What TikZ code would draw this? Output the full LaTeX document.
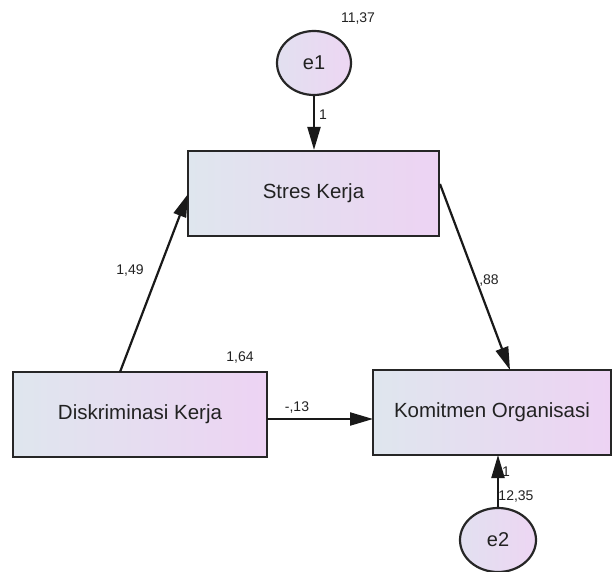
\documentclass[tikz,border=0pt]{standalone}
\usepackage{fontspec}
\setmainfont{Liberation Sans}
\usetikzlibrary{arrows.meta,shapes.geometric}
\definecolor{boxL}{HTML}{DFE6EE}
\definecolor{boxR}{HTML}{EDD3F3}
\definecolor{ellL}{HTML}{E2E0F0}
\definecolor{ellR}{HTML}{EDD6F3}
\definecolor{txt}{HTML}{222222}
\begin{document}
\begin{tikzpicture}[x=1pt,y=-1pt,
  varbox/.style={draw=black!85,line width=2.2pt,rectangle,left color=boxL,right color=boxR,
    minimum height=85pt,inner sep=0pt,font=\fontsize{20.5}{24}\selectfont,text=txt},
  errnode/.style={draw=black!85,line width=2.2pt,ellipse,left color=ellL,right color=ellR,
    minimum width=74pt,minimum height=64pt,inner sep=0pt,font=\fontsize{20}{24}\selectfont,text=txt},
  path/.style={line width=2.2pt,draw=black!90,-{Triangle[length=23pt,width=13pt]}},
  lab/.style={font=\fontsize{14}{16}\selectfont,text=txt,inner sep=0pt}]
\useasboundingbox (0,0) rectangle (613,572);
\node[errnode] (e1) at (314,63) {e1};
\node[varbox,minimum width=251pt] (SK) at (313.5,193.5) {Stres Kerja};
\node[varbox,minimum width=254pt] (DK) at (140,414.5) {Diskriminasi Kerja};
\node[varbox,minimum width=238pt] (KO) at (492,412.5) {Komitmen Organisasi};
\node[errnode,minimum width=76pt] (e2) at (498,540) {e2};
\coordinate (dkTop) at (120,372);
\coordinate (skLeft) at (188,194);
\coordinate (skRight) at (440,184);
\coordinate (koTop) at (510,370);
\coordinate (dkRight) at (267,419);
\coordinate (koLeft) at (373,419);
\coordinate (koBot) at (498,455);
\draw[path] (e1.south) -- (e1.south|-SK.north);
\draw[path] (dkTop) -- (skLeft);
\draw[path] (skRight) -- (koTop);
\draw[path] (dkRight) -- (koLeft);
\draw[path] (e2.north) -- (koBot);
\node[lab] (l1) at (323,115) {1};
\node[lab] (v1) at (358,19) {11,37};
\node[lab] (l149) at (130,271) {1,49};
\node[lab] (l88) at (489,281) {,88};
\node[lab] (v164) at (240,358) {1,64};
\node[lab] (l13) at (297,408) {-,13};
\node[lab] (l2) at (506,472) {1};
\node[lab] (v2) at (516,497) {12,35};
\end{tikzpicture}
\end{document}
